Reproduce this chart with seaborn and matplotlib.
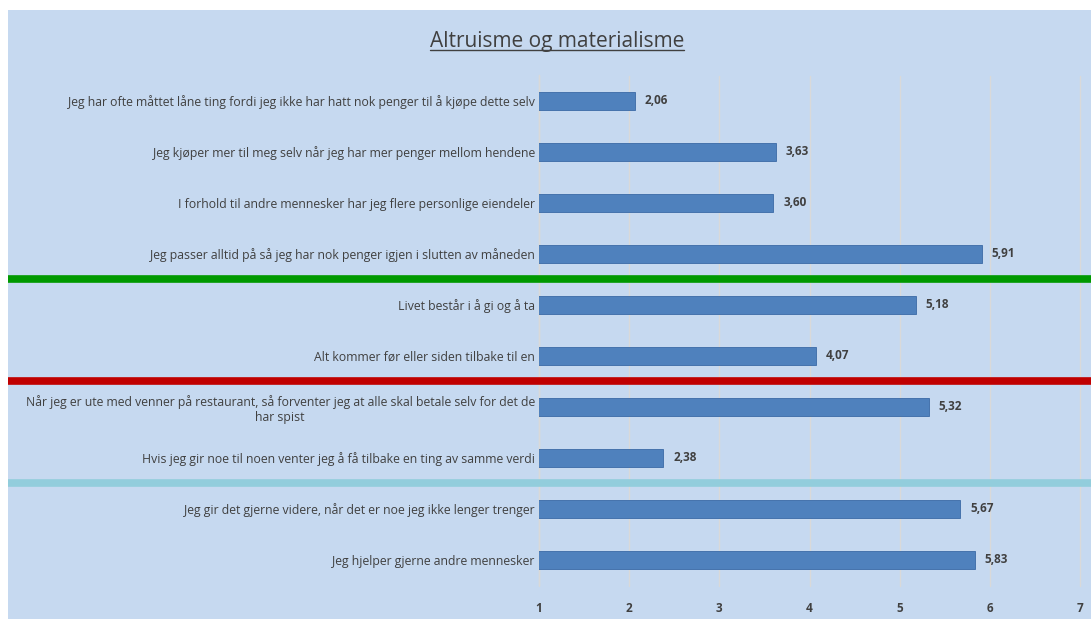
import matplotlib
matplotlib.use('Agg')
import matplotlib.pyplot as plt
import matplotlib.transforms as mtransforms
from matplotlib.patches import Rectangle
import seaborn as sns
import pandas as pd

# data
statements = [
    'Jeg har ofte måttet låne ting fordi jeg ikke har hatt nok penger til å kjøpe dette selv',
    'Jeg kjøper mer til meg selv når jeg har mer penger mellom hendene',
    'I forhold til andre mennesker har jeg flere personlige eiendeler',
    'Jeg passer alltid på så jeg har nok penger igjen i slutten av måneden',
    'Livet består i å gi og å ta',
    'Alt kommer før eller siden tilbake til en',
    'Når jeg er ute med venner på restaurant, så forventer jeg at alle skal betale selv for det de\nhar spist',
    'Hvis jeg gir noe til noen venter jeg å få tilbake en ting av samme verdi',
    'Jeg gir det gjerne videre, når det er noe jeg ikke lenger trenger',
    'Jeg hjelper gjerne andre mennesker',
]
scores = [2.06, 3.63, 3.60, 5.91, 5.18, 4.07, 5.32, 2.38, 5.67, 5.83]
x_ticks = [1, 2, 3, 4, 5, 6, 7]
# group separators (between rows) and their colours
separators = [3.5, 5.5, 7.5]
separator_colors = ['#009900', '#C00000', '#92CDDC']

df = pd.DataFrame({'statement': statements, 'score': scores})

sns.set_theme(style='white')
plt.rcParams['font.family'] = ['Open Sans', 'DejaVu Sans']

bg = '#C6D9F0'
text_col = '#404040'

fig = plt.figure(figsize=(10.91, 6.19), dpi=100, facecolor='white')
fig.patches.append(Rectangle((8 / 1091, 0), 1 - 8 / 1091, 1 - 10 / 619,
                             transform=fig.transFigure, facecolor=bg,
                             edgecolor='none', zorder=-10))
ax = fig.add_axes([539 / 1091, 1 - 585.5 / 619, (1080 - 539) / 1091, 510 / 619])
ax.set_facecolor('none')
ax.set_zorder(2)

sns.barplot(data=df, x='score', y='statement', orient='h', color='#4F81BD',
            width=0.35, saturation=1, edgecolor='#3A6AA6', linewidth=0.6,
            ax=ax, zorder=3)

ax.set_xlim(1, 7)
ax.set_ylim(9.5, -0.5)
ax.set_xticks(x_ticks)
ax.set_xticklabels([str(t) for t in x_ticks], fontsize=8.5,
                   fontweight='bold', color=text_col)
ax.tick_params(axis='x', length=0, pad=12)
ax.tick_params(axis='y', length=0, pad=3)
for lab in ax.get_yticklabels():
    lab.set_fontsize(8.8)
    lab.set_color(text_col)
    lab.set_multialignment('center')
ax.set_xlabel('')
ax.set_ylabel('')
ax.grid(axis='x', color='#D9D9D9', linewidth=1, zorder=0)
for gl in ax.get_xgridlines():
    gl.set_clip_on(False)
for s in ['top', 'right', 'bottom']:
    ax.spines[s].set_visible(False)
ax.spines['left'].set_color('#D9D9D9')
ax.spines['left'].set_linewidth(1)

# value labels with decimal comma
for i, v in enumerate(scores):
    ax.text(v + 0.11, i, f'{v:.2f}'.replace('.', ','), va='center', ha='left',
            fontsize=8.5, fontweight='bold', color=text_col, zorder=4)

# coloured group separators across the whole chart area
trans = mtransforms.blended_transform_factory(fig.transFigure, ax.transData)
for yv, c in zip(separators, separator_colors):
    ax.plot([8 / 1091, 1], [yv, yv], color=c, linewidth=5.5, transform=trans,
            clip_on=False, zorder=5, solid_capstyle='butt')

title = fig.text(557 / 1091, 1 - 42 / 619, 'Altruisme og materialisme', ha='center',
                 va='center', fontsize=15, color=text_col)
fig.canvas.draw()
bb = title.get_window_extent().transformed(fig.transFigure.inverted())
fig.add_artist(plt.Line2D([bb.x0, bb.x1], [bb.y0 + 0.004, bb.y0 + 0.004],
                          transform=fig.transFigure, color=text_col, linewidth=1))

fig.savefig('out.png', dpi=100, facecolor='white')
